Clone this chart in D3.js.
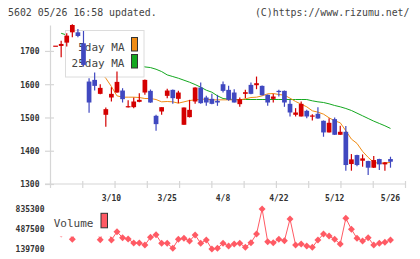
<!DOCTYPE html>
<html><head><meta charset="utf-8">
<script src="https://cdn.jsdelivr.net/npm/d3@7"></script>
<style>html,body{margin:0;padding:0;background:#fff;} svg{display:block;}</style>
</head><body><svg id="c" width="420" height="259"></svg>
<script>
// ---------- data ----------
const headerLeft = "5602 05/26 16:58 updated.";
const headerRight = "(C)https://www.rizumu.net/";
const openP  = [1716,1715,1725,1756,1756,1723,1608,1613,1571,1508,1560,1575,1581,1531,1531,1547,1575,1580,1505,1518,1565,1583,1556,1478,1501,1548,1590,1560,1556,1550,1600,1583,1575,1540,1571,1598,1597,1595,1568,1556,1580,1580,1541,1508,1503,1520,1504,1511,1490,1455,1495,1448,1457,1360,1387,1370,1369,1349,1375,1359,1375];
const highP  = [1716,1731,1753,1780,1766,1760,1618,1635,1600,1530,1591,1638,1588,1552,1560,1573,1614,1584,1508,1531,1586,1584,1580,1530,1553,1591,1605,1565,1571,1568,1608,1595,1585,1560,1583,1605,1623,1596,1569,1571,1583,1581,1553,1528,1548,1523,1510,1531,1491,1498,1500,1475,1474,1390,1388,1389,1370,1384,1376,1366,1382];
const lowP   = [1716,1681,1713,1741,1741,1653,1514,1581,1570,1472,1548,1574,1545,1530,1528,1546,1568,1544,1460,1508,1558,1541,1543,1478,1500,1541,1541,1535,1540,1535,1575,1550,1545,1532,1558,1570,1585,1566,1535,1545,1563,1532,1503,1503,1503,1498,1491,1496,1442,1455,1447,1447,1340,1340,1353,1352,1327,1348,1342,1340,1349];
const closeP = [1716,1721,1746,1778,1745,1658,1545,1595,1589,1525,1571,1607,1555,1534,1548,1553,1613,1545,1480,1531,1581,1558,1575,1530,1523,1590,1543,1545,1541,1545,1580,1553,1545,1555,1576,1571,1603,1567,1545,1563,1577,1545,1515,1515,1541,1503,1506,1497,1455,1484,1448,1457,1357,1374,1357,1377,1349,1372,1359,1365,1367];
const ma5  = [null,null,1735,1740,1745,1728,1700,1668,1635,1618,1593,1565,1561,1561,1561,1560,1557,1557,1554,1547,1548,1547,1543,1547,1551,1553,1555,1555,1553,1553,1553,1553,1553,1553,1556,1560,1561,1565,1571,1572,1569,1567,1558,1548,1540,1532,1520,1516,1510,1499,1490,1484,1460,1435,1422,1398,1380,1365,1362,1363,1365];
const ma25 = [null,1753,1748,1744,1739,1734,1727,1720,1712,1704,1696,1688,1680,1672,1665,1658,1652,1650,1645,1638,1628,1623,1618,1612,1606,1599,1591,1582,1576,1565,1557,1555,1554,1554,1554,1554,1554,1554,1554,1554,1554,1554,1554,1554,1554,1554,1550,1547,1545,1541,1536,1532,1527,1521,1513,1505,1497,1489,1482,1475,1467];
const volume = [500000,400000,560000,308000,600000,700000,760000,560000,300000,600000,296000,440000,336000,314000,244000,244000,209000,343000,388000,239000,239000,152000,308000,326000,279000,383000,239000,296000,139700,152000,239000,192000,227000,239000,169000,249000,400000,835300,267000,249000,308000,284000,661000,209000,227000,192000,169000,296000,400000,366000,308000,227000,674000,482000,326000,279000,336000,209000,239000,256000,296000];
const labelIndex = [10,20,30,40,50,60];
const dateLabels = ["3/10","3/25","4/8","4/22","5/12","5/26"];
const priceTicks = [1300,1400,1500,1600,1700];
const volTicks = [139700,487500,835300];
const maNames = ["5day MA","25day MA"];
const volName = "Volume";

// ---------- layout ----------
const svg = d3.select("#c");
const plot = {left:50, right:405, top:25, bottom:184};
const vol = {top:209, bottom:249};
const RED="#d40000", BLUE="#4048c0", ORANGE="#f08c14", GREEN="#14a820", VOLC="#ff5a64", AX="#d6d6d6";
const mono = "'DejaVu Sans Mono', 'Liberation Mono', monospace";
const idx = d3.range(openP.length);

const x = d3.scaleLinear().domain([-1, 62.6]).range([plot.left, plot.right]);
const y = d3.scaleLinear().domain([1300, 1778]).range([plot.bottom, plot.top]);
const yv = d3.scaleLinear().domain([volTicks[0], volTicks[2]]).range([vol.bottom, vol.top]);

svg.append("defs").append("clipPath").attr("id","pc")
  .append("rect").attr("x",plot.left).attr("y",plot.top-1).attr("width",plot.right-plot.left).attr("height",plot.bottom-plot.top+1);

// header
svg.append("text").attr("x",8).attr("y",15.5).attr("font-family",mono).attr("font-size",9.9).attr("fill","#444").text(headerLeft);
svg.append("text").attr("x",409.5).attr("y",15.5).attr("text-anchor","end").attr("font-family",mono).attr("font-size",9.9).attr("fill","#444").text(headerRight);

// y axis
const yAxis = svg.append("g").attr("transform",`translate(${plot.left},0)`)
  .call(d3.axisLeft(y).tickValues(priceTicks).tickSizeInner(5).tickSizeOuter(0).tickPadding(0).tickFormat(d3.format("d")));
yAxis.select(".domain").attr("stroke",AX).attr("stroke-width",1.2);
yAxis.selectAll(".tick line").attr("stroke",AX).attr("stroke-width",1.2).attr("x1",4).attr("x2",-5);
yAxis.selectAll(".tick text").attr("x",-10.5).attr("dy","0.35em").attr("font-family",mono).attr("font-weight","bold").attr("font-size",8).attr("fill","#333");

// x axis
const xTicks = d3.range(12).map(k => x.domain()[0] + k*(x.domain()[1]-x.domain()[0])/11);
const xAxis = svg.append("g").attr("transform",`translate(0,${plot.bottom})`)
  .call(d3.axisBottom(x).tickValues(xTicks).tickSizeInner(4).tickSizeOuter(0).tickFormat(""));
xAxis.select(".domain").attr("stroke",AX).attr("stroke-width",1.2).attr("d",`M${plot.left-5},0H${plot.right}`);
xAxis.selectAll(".tick line").attr("stroke",AX).attr("stroke-width",1.2).attr("y1",-3).attr("y2",4);

// date labels
svg.append("g").selectAll("text").data(labelIndex).join("text")
  .attr("x",d=>x(d)).attr("y",201).attr("text-anchor","middle")
  .attr("font-family",mono).attr("font-weight","bold").attr("font-size",8).attr("fill","#333")
  .text((d,i)=>dateLabels[i]);

// MA lines
const gLines = svg.append("g").attr("clip-path","url(#pc)");
const line = arr => d3.line().defined(i=>arr[i]!=null).x(i=>x(i)).y(i=>y(arr[i]))(idx);
gLines.append("path").attr("d",line(ma25)).attr("fill","none").attr("stroke",GREEN).attr("stroke-width",1);
gLines.append("path").attr("d",line(ma5)).attr("fill","none").attr("stroke",ORANGE).attr("stroke-width",1);

// legend (main)
const lg = svg.append("g").attr("transform","translate(65.5,30.5)");
lg.append("rect").attr("width",78.5).attr("height",46.5).attr("fill","#fff").attr("stroke","#dcdcdc");
[ORANGE, GREEN].forEach((c,k)=>{
  lg.append("text").attr("x",59).attr("y",20+k*16.7).attr("text-anchor","end")
    .attr("font-family",mono).attr("font-size",11).attr("fill","#444").text(maNames[k]);
  lg.append("rect").attr("x",66).attr("y",7+k*17).attr("width",6).attr("height",13.5)
    .attr("fill",c).attr("stroke","#333").attr("stroke-width",1);
});

// candles
const gC = svg.append("g").attr("clip-path","url(#pc)");
const bw = 4.7;
const cg = gC.selectAll("g").data(idx).join("g");
cg.append("line").attr("x1",i=>x(i)).attr("x2",i=>x(i)).attr("y1",i=>y(highP[i])).attr("y2",i=>y(lowP[i]))
  .attr("stroke",i=>closeP[i]>=openP[i]?RED:BLUE).attr("stroke-width",1.2);
cg.append("rect").attr("x",i=>x(i)-bw/2).attr("width",bw)
  .attr("y",i=>y(Math.max(openP[i],closeP[i])))
  .attr("height",i=>Math.max(1.2, Math.abs(y(openP[i])-y(closeP[i]))))
  .attr("fill",i=>closeP[i]>=openP[i]?RED:BLUE);

// volume
const gV = svg.append("g");
gV.append("path").attr("d",d3.line().x(i=>x(i)).y(i=>yv(volume[i]))(idx)).attr("fill","none").attr("stroke",VOLC).attr("stroke-width",1);
gV.selectAll("path.m").data(idx).join("path").attr("class","m")
  .attr("d",d3.symbol(d3.symbolSquare,24)())
  .attr("transform",i=>`translate(${x(i)},${yv(volume[i])}) rotate(45)`)
  .attr("fill",VOLC);
// volume legend
const vl = svg.append("g").attr("transform","translate(50,204)");
vl.append("rect").attr("width",62).attr("height",32.5).attr("fill","#fff");
vl.append("text").attr("x",43.5).attr("y",23).attr("text-anchor","end").attr("font-family",mono).attr("font-size",11).attr("fill","#444").text(volName);
vl.append("rect").attr("x",51).attr("y",9.3).attr("width",6.5).attr("height",14.5).attr("fill",VOLC).attr("stroke","#333");
// volume labels
svg.append("g").selectAll("text").data(volTicks).join("text")
  .attr("x",44.5).attr("y",d=>yv(d)).attr("dy","0.35em").attr("text-anchor","end")
  .attr("font-family",mono).attr("font-weight","bold").attr("font-size",8).attr("fill","#333")
  .text(d=>d);
</script></body></html>
